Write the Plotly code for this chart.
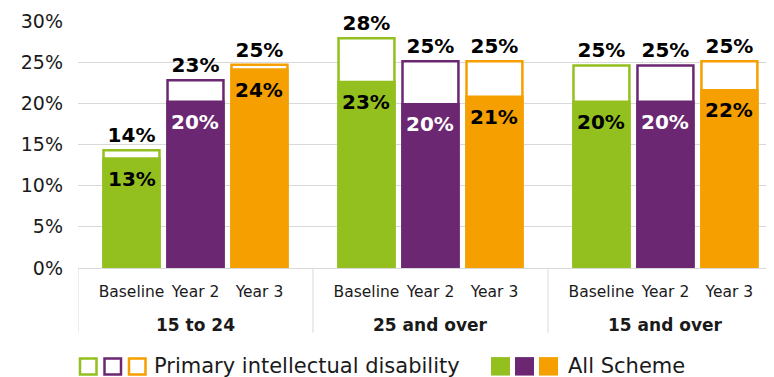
import plotly.graph_objects as go

# categories
groups = ["15 to 24", "25 and over", "15 and over"]
periods = ["Baseline", "Year 2", "Year 3"]
colours = ["#93c01f", "#6b2771", "#f5a000"]
inside_text_colours = ["#000000", "#ffffff", "#000000"]

# Primary intellectual disability (outline bars), % per group: Baseline, Year 2, Year 3
pid_15_24 = [14.3, 22.8, 24.7]
pid_25_over = [27.9, 25.1, 25.1]
pid_15_over = [24.6, 24.6, 25.1]

# All Scheme (filled bars)
all_15_24 = [13.3, 20.2, 24.1]
all_25_over = [22.6, 19.9, 20.8]
all_15_over = [20.2, 20.2, 21.6]

pid = [pid_15_24, pid_25_over, pid_15_over]
alls = [all_15_24, all_25_over, all_15_over]

FONT = "DejaVu Sans"
step = 0.2723   # spacing of bars within a group (group = 1 unit)
bw = 0.238      # bar width

xs, y_pid, y_all, cols, tcols, tickvals, ticktext = [], [], [], [], [], [], []
for g in range(len(groups)):
    for i, p in enumerate(periods):
        x = g + (i - 1) * step
        xs.append(x)
        y_pid.append(pid[g][i])
        y_all.append(alls[g][i])
        cols.append(colours[i])
        tcols.append(inside_text_colours[i])
        tickvals.append(x)
        ticktext.append(p)

fig = go.Figure()

# outline bars
fig.add_trace(go.Bar(
    x=xs, y=y_pid, width=bw,
    marker=dict(color="white", line=dict(color=cols, width=2.5)),
    texttemplate="<b>%{y:.0f}%</b>", textposition="outside",
    textfont=dict(family=FONT, size=20, color="#000000"),
    cliponaxis=False, showlegend=False, hoverinfo="skip",
))

# filled bars
fig.add_trace(go.Bar(
    x=xs, y=y_all, width=bw,
    marker=dict(color=cols, line=dict(color=cols, width=2.5)),
    cliponaxis=False, showlegend=False, hoverinfo="skip",
))

# labels inside the top of the filled bars
for x, v, tc in zip(xs, y_all, tcols):
    fig.add_annotation(
        x=x, y=v, xref="x", yref="y", yanchor="middle", yshift=-20,
        text="<b>%d%%</b>" % round(v), showarrow=False,
        font=dict(family=FONT, size=20, color=tc),
    )

# page body adds an 8px offset, so the figure is 8px smaller
fig.update_layout(
    barmode="overlay",
    width=766, height=369,
    margin=dict(l=70, r=0, t=13, b=108.7, autoexpand=False),
    plot_bgcolor="white", paper_bgcolor="white",
    font=dict(family=FONT, color="#1a1a1a"),
    showlegend=False,
)

fig.update_yaxes(
    range=[0, 30], dtick=5, ticksuffix="%",
    showgrid=True, gridcolor="#d9d9d9", gridwidth=1,
    zeroline=True, zerolinecolor="#d9d9d9", zerolinewidth=1,
    tickfont=dict(family=FONT, size=19, color="#1a1a1a"),
    ticklabelstandoff=14, showline=False, automargin=False,
)
fig.update_xaxes(
    range=[-0.5, 2.462], tickvals=tickvals, ticktext=ticktext,
    tickfont=dict(family=FONT, size=15.5, color="#1a1a1a"),
    showgrid=False, zeroline=False, showline=False, ticks="",
    ticklabelstandoff=12, automargin=False,
)

# group labels and dividers
for g, name in enumerate(groups):
    fig.add_annotation(
        x=g, xref="x", y=-0.23, yref="paper", yanchor="middle",
        text="<b>" + name + "</b>", showarrow=False,
        font=dict(family=FONT, size=17, color="#1a1a1a"),
    )
for g in range(len(groups)):
    fig.add_shape(type="line", xref="x", yref="paper",
                  x0=g - 0.5, x1=g - 0.5, y0=0, y1=-0.262,
                  line=dict(color="#d9d9d9", width=1))


def px_x(p):
    return (p - 78) / 696


def px_y(p):
    return (268.3 - p) / 247.3


# legend drawn by hand
for i, c in enumerate(colours):
    x0 = 80 + i * 24.5
    fig.add_shape(type="rect", xref="paper", yref="paper",
                  x0=px_x(x0), x1=px_x(x0 + 16.5), y0=px_y(359), y1=px_y(375),
                  line=dict(color=c, width=2.5), fillcolor="white")
    x0 = 491 + i * 24
    fig.add_shape(type="rect", xref="paper", yref="paper",
                  x0=px_x(x0), x1=px_x(x0 + 19), y0=px_y(357.5), y1=px_y(376),
                  line=dict(width=0), fillcolor=c)

fig.add_annotation(x=px_x(152), y=px_y(366), xref="paper", yref="paper",
                   xanchor="left", yanchor="middle", showarrow=False,
                   text="Primary intellectual disability",
                   font=dict(family=FONT, size=21, color="#1a1a1a"))
fig.add_annotation(x=px_x(566), y=px_y(366), xref="paper", yref="paper",
                   xanchor="left", yanchor="middle", showarrow=False,
                   text="All Scheme",
                   font=dict(family=FONT, size=21, color="#1a1a1a"))

fig.write_html("out.html")
